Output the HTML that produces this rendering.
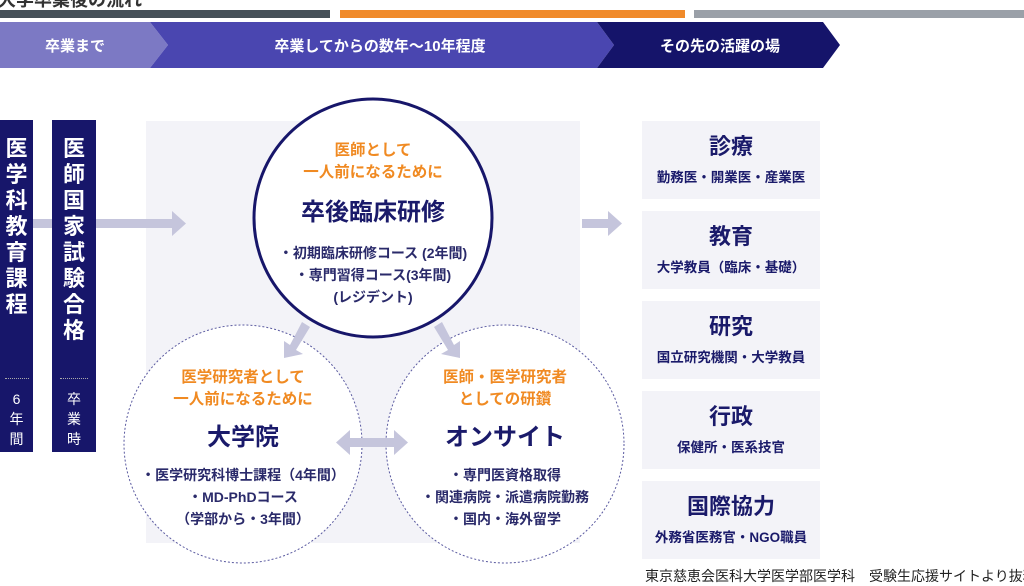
<!DOCTYPE html>
<html><head><meta charset="utf-8"><style>
*{margin:0;padding:0;box-sizing:border-box}
body{width:1024px;height:576px;overflow:hidden;background:#fff;position:relative;font-family:"Liberation Sans","Noto Sans CJK JP",sans-serif;color:#1a1a6a}
.a{position:absolute}
.c{text-align:center}
.bar{background:#17166a;color:#fff;font-weight:bold}
.box{background:#f3f3f8;width:178px;height:78px;left:642px;text-align:center}
.box b{display:block;font-size:22px;margin-top:11px;line-height:30px}
.box span{display:block;font-size:13.5px;font-weight:bold;margin-top:4px}
.or{color:#f08a22;font-weight:bold;font-size:15.5px;line-height:22px}
.t{font-weight:bold;font-size:24px;line-height:30px}
.s{font-size:14px;font-weight:bold;line-height:22px;color:#2a2a6a}
</style></head><body>
<div class="a" style="left:-2px;top:-14px;font-size:18px;font-weight:bold;color:#333">大学卒業後の流れ</div>
<div class="a" style="left:0;top:10px;width:330px;height:8px;background:#455058"></div>
<div class="a" style="left:340px;top:10px;width:345px;height:8px;background:#f08a2a"></div>
<div class="a" style="left:694px;top:10px;width:330px;height:8px;background:#9aa0a8"></div>
<svg class="a" style="left:0;top:0" width="1024" height="576">
<polygon points="0,22 150,22 168,45 150,68 0,68" fill="#7c79c4"/>
<polygon points="150,22 597,22 614,45 597,68 150,68 168,45" fill="#4a46b0"/>
<polygon points="597,22 823,22 840,45 823,68 597,68 614,45" fill="#15146a"/>
<text x="75" y="51" fill="#fff" font-size="15" font-weight="bold" text-anchor="middle" font-family="Liberation Sans,Noto Sans CJK JP,sans-serif">卒業まで</text>
<text x="380" y="51" fill="#fff" font-size="15" font-weight="bold" text-anchor="middle" font-family="Liberation Sans,Noto Sans CJK JP,sans-serif">卒業してからの数年〜10年程度</text>
<text x="720" y="51" fill="#fff" font-size="15" font-weight="bold" text-anchor="middle" font-family="Liberation Sans,Noto Sans CJK JP,sans-serif">その先の活躍の場</text>
<rect x="146" y="121" width="434" height="422" fill="#f3f3f8"/>
<g fill="#c5c5dc">
<rect x="96" y="219" width="76" height="9"/><polygon points="172,211 186,223.5 172,236"/>
<rect x="33" y="219" width="20" height="9"/>
<rect x="582" y="219" width="26" height="9"/><polygon points="608,211 622,223.5 608,236"/>
</g>
<circle cx="243" cy="444" r="119" fill="#fff" stroke="#5a5aa0" stroke-width="1" stroke-dasharray="2,2"/>
<circle cx="505" cy="444" r="119" fill="#fff" stroke="#5a5aa0" stroke-width="1" stroke-dasharray="2,2"/>
<g fill="#c5c5dc">
<rect x="350" y="438" width="44" height="9"/><polygon points="350,430 336,442.5 350,455"/><polygon points="394,430 408,442.5 394,455"/>
<polygon points="302,322 310,327 296,350 303,354 284,358 284,341 290,345"/>
<polygon points="442,322 434,327 448,350 441,354 460,358 460,341 454,345"/>
</g>
<circle cx="373" cy="218" r="119" fill="#fff" stroke="#17166a" stroke-width="3"/>
</svg>
<div class="a bar c" style="left:0;top:120px;width:33px;height:332px">
<div style="font-size:22px;line-height:26px;margin-top:16px">医<br>学<br>科<br>教<br>育<br>課<br>程</div>
<div style="border-top:1px dotted #aaa;width:24px;margin:60px auto 0"></div>
<div style="font-size:14px;font-weight:normal;line-height:20px;margin-top:10px">6<br>年<br>間</div></div>
<div class="a bar c" style="left:52px;top:120px;width:44px;height:332px">
<div style="font-size:22px;line-height:26px;margin-top:16px">医<br>師<br>国<br>家<br>試<br>験<br>合<br>格</div>
<div style="border-top:1px dotted #aaa;width:28px;margin:34px auto 0"></div>
<div style="font-size:14px;font-weight:normal;line-height:20px;margin-top:10px">卒<br>業<br>時</div></div>
<div class="a c" style="left:253px;top:140px;width:240px">
<div class="or">医師として<br>一人前になるために</div>
<div class="t" style="margin-top:14px">卒後臨床研修</div>
<div class="s" style="margin-top:14px">・初期臨床研修コース (2年間)<br>・専門習得コース(3年間)<br>(レジデント)</div></div>
<div class="a c" style="left:123px;top:367px;width:240px">
<div class="or">医学研究者として<br>一人前になるために</div>
<div class="t" style="margin-top:12px">大学院</div>
<div class="s" style="margin-top:11px">・医学研究科博士課程（4年間）<br>・MD-PhDコース<br>（学部から・3年間）</div></div>
<div class="a c" style="left:385px;top:367px;width:240px">
<div class="or">医師・医学研究者<br>としての研鑽</div>
<div class="t" style="margin-top:12px">オンサイト</div>
<div class="s" style="margin-top:11px">・専門医資格取得<br>・関連病院・派遣病院勤務<br>・国内・海外留学</div></div>
<div class="a box" style="top:121px"><b>診療</b><span>勤務医・開業医・産業医</span></div>
<div class="a box" style="top:211px"><b>教育</b><span>大学教員（臨床・基礎）</span></div>
<div class="a box" style="top:301px"><b>研究</b><span>国立研究機関・大学教員</span></div>
<div class="a box" style="top:391px"><b>行政</b><span>保健所・医系技官</span></div>
<div class="a box" style="top:481px"><b>国際協力</b><span>外務省医務官・NGO職員</span></div>
<div class="a" style="left:645px;top:566px;font-size:14px;color:#222;white-space:nowrap">東京慈恵会医科大学医学部医学科　受験生応援サイトより抜粋</div>
</body></html>
